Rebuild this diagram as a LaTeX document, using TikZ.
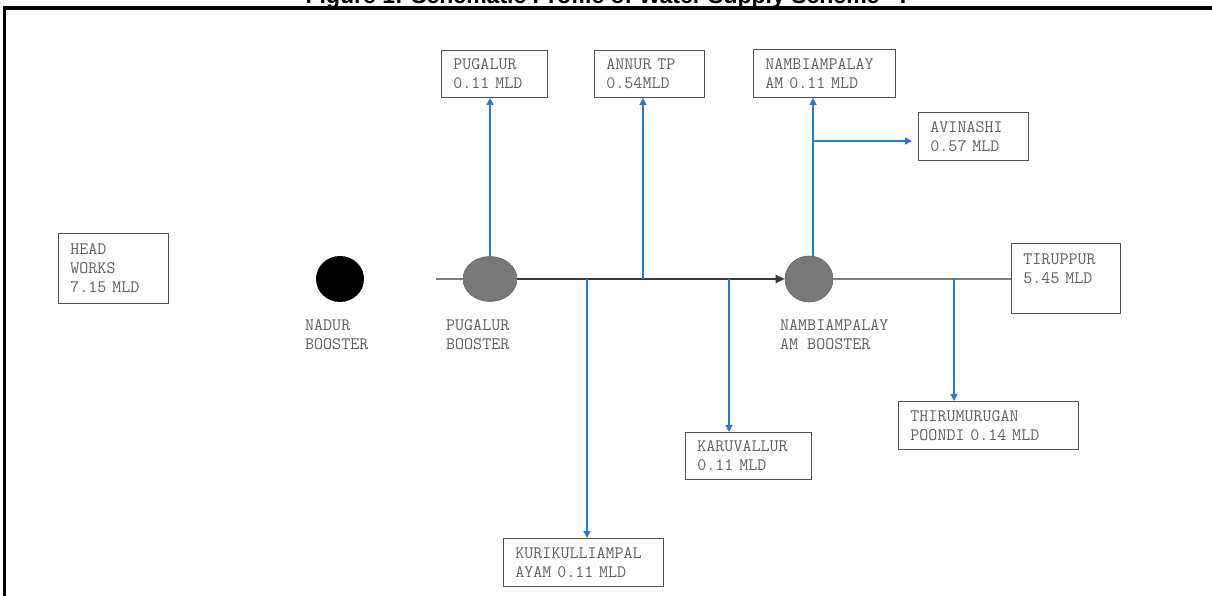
\documentclass[tikz,border=0pt]{standalone}
\usepackage{fontspec}
\setmainfont{Liberation Sans}
\newfontfamily\boxfont{Latin Modern Mono}
\usetikzlibrary{arrows.meta,shapes.geometric}
\definecolor{pipeblue}{RGB}{38,122,208}
\definecolor{boxtxt}{RGB}{95,95,95}
\definecolor{boxline}{RGB}{80,80,80}
\definecolor{boostergray}{RGB}{120,120,120}
\tikzset{
  sitebox/.style={draw=boxline, line width=0.9pt, font=\boxfont\fontsize{17.5}{19}\selectfont,
    text=boxtxt, align=left, anchor=north west, inner xsep=12pt, inner ysep=0pt},
  lbl/.style={font=\boxfont\fontsize{17.5}{19}\selectfont, text=boxtxt, align=left,
    anchor=north west, inner sep=0pt},
  booster/.style={ellipse, inner sep=0pt},
  branch/.style={draw=pipeblue, line width=1.4pt, -{Triangle[width=7pt,length=7pt]}},
  lightpipe/.style={draw=black!50, line width=1.8pt},
  darkpipe/.style={draw=black!78, line width=1.8pt, -{Triangle[width=8pt,length=9pt]}},
  frameline/.style={draw=black, line width=3.2pt},
}
\begin{document}
\begin{tikzpicture}[x=1pt,y=-1pt]
\useasboundingbox (0,0) rectangle (1212,596);
% title (cut off by the page edge, as in the reference) and frame
\begin{scope}
  \clip (0,0) rectangle (1212,596);
  \node[font=\bfseries\fontsize{23}{26}\selectfont, anchor=base, inner sep=0pt] (title) at (606,4)
    {Figure 1: Schematic Profile of Water Supply Scheme - I};
\end{scope}
\draw[frameline] (4.5,596) -- (4.5,8) -- (1212,8);

% site boxes
\node[sitebox, minimum width=110pt, minimum height=70pt, text width=86pt] (head) at (58,233) {HEAD\\WORKS\\7.15 MLD};
\node[sitebox, minimum width=106pt, minimum height=47pt, text width=82pt] (pug) at (441,50) {PUGALUR\\0.11 MLD};
\node[sitebox, minimum width=110pt, minimum height=47pt, text width=86pt] (annur) at (594,50) {ANNUR TP\\0.54MLD};
\node[sitebox, minimum width=142pt, minimum height=48pt, text width=118pt] (nambi) at (753,49) {NAMBIAMPALAY\\AM 0.11 MLD};
\node[sitebox, minimum width=110pt, minimum height=48pt, text width=86pt] (avin) at (918,112) {AVINASHI\\0.57 MLD};
\node[sitebox, minimum width=109pt, minimum height=70pt, text width=85pt] (tirup) at (1011,243) {TIRUPPUR\\5.45 MLD\\\mbox{}};
\node[sitebox, minimum width=126pt, minimum height=47pt, text width=102pt] (karu) at (685,432) {KARUVALLUR\\0.11 MLD};
\node[sitebox, minimum width=160pt, minimum height=48pt, text width=136pt] (kuri) at (503,538) {KURIKULLIAMPAL\\AYAM 0.11 MLD};
\node[sitebox, minimum width=180pt, minimum height=48pt, text width=156pt] (thiru) at (898,401) {THIRUMURUGAN\\POONDI 0.14 MLD};

% boosters
\node[booster, fill=black, minimum width=48pt, minimum height=46pt] (nadurb) at (340,279) {};
\node[booster, fill=boostergray, draw=black!60, line width=0.6pt, minimum width=54pt, minimum height=45pt] (pugb) at (490,279) {};
\node[booster, fill=boostergray, draw=black!60, line width=0.6pt, minimum width=48pt, minimum height=46pt] (nambb) at (809,279) {};

% booster labels
\node[lbl] (nadurlbl) at (305,319) {NADUR\\BOOSTER};
\node[lbl] (puglbl) at (446,319) {PUGALUR\\BOOSTER};
\node[lbl] (nambilbl) at (780,319) {NAMBIAMPALAY\\AM BOOSTER};

% main pipe
\coordinate (mainstart) at (436,279);
\draw[lightpipe] (mainstart) -- (pugb.west);
\draw[darkpipe] (pugb.east) -- (nambb.west);
\draw[lightpipe] (nambb.east) -- (nambb.east -| tirup.west);

% branches
\coordinate (jAnnur) at (643,279);
\coordinate (jKuri) at (587,279);
\coordinate (jKaru) at (729,279);
\coordinate (jThiru) at (954,279);
\coordinate (jNambi) at (813,257);
\coordinate (jAvin) at (813,141);
\draw[branch] (pugb.north) -- (pugb.north |- pug.south);
\draw[branch] (jAnnur) -- (jAnnur |- annur.south);
\draw[branch] (jNambi) -- (jNambi |- nambi.south);
\draw[branch, shorten >=6pt] (jAvin) -- (jAvin -| avin.west);
\draw[branch] (jKuri) -- (jKuri |- kuri.north);
\draw[branch] (jKaru) -- (jKaru |- karu.north);
\draw[branch] (jThiru) -- (jThiru |- thiru.north);
\end{tikzpicture}
\end{document}
